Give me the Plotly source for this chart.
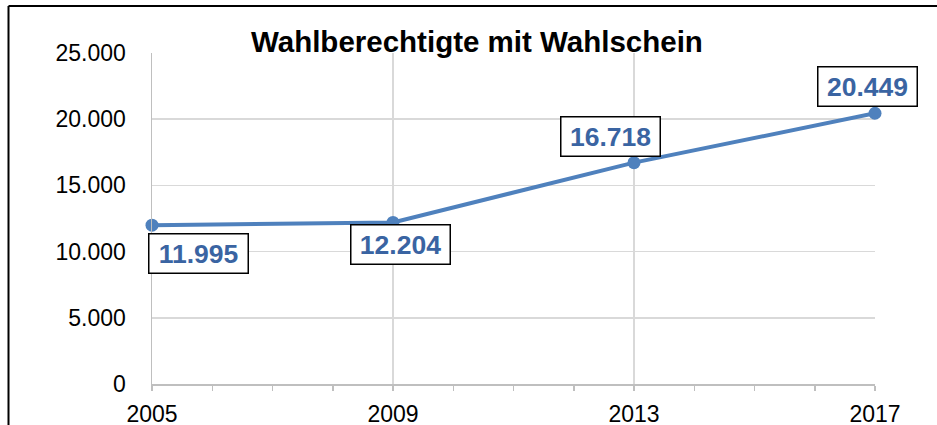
import plotly.graph_objects as go

years = [2005, 2009, 2013, 2017]
voters = [11995, 12204, 16718, 20449]
label_shift_x = [46, 7, -24, -8]
label_shift_y = [-28, -22, 26, 27]

title_text = "Wahlberechtigte mit Wahlschein"
y_ticks = [0, 5000, 10000, 15000, 20000, 25000]

def de(v):
    return f"{v:,}".replace(",", ".")

FONT = "Liberation Sans, Arial, sans-serif"
LINE = "#4F81BD"
LBL = "#3A64A2"

fig = go.Figure()
fig.add_trace(go.Scatter(
    x=years, y=voters, mode="lines+markers",
    line=dict(color=LINE, width=4),
    marker=dict(color=LINE, size=13),
    cliponaxis=False, showlegend=False, hoverinfo="skip",
))

for x, v, sx, sy in zip(years, voters, label_shift_x, label_shift_y):
    fig.add_annotation(
        x=x, y=v, xref="x", yref="y", text=de(v), showarrow=False,
        xshift=sx, yshift=sy, xanchor="center", yanchor="middle",
        font=dict(family=FONT, size=26.5, color=LBL, weight="bold"),
        bgcolor="white", bordercolor="black", borderwidth=1.5,
        borderpad=3, width=92, height=32,
    )

L, R, T, B = 152, 62, 53, 41
W, H = 937, 425
pw, ph = W - L - R, H - T - B

def px(xp):
    return (xp - L) / pw

def py(yp):
    return (H - B - yp) / ph

# outer frame (top and left edges visible)
fig.add_shape(type="line", xref="paper", yref="paper",
              x0=px(8.5), x1=px(W + 5), y0=py(6), y1=py(6),
              line=dict(color="black", width=2))
fig.add_shape(type="line", xref="paper", yref="paper",
              x0=px(8.5), x1=px(8.5), y0=py(6), y1=py(H + 5),
              line=dict(color="black", width=2))

fig.add_annotation(
    text=title_text, xref="paper", yref="paper",
    x=px(476.5), y=py(42), xanchor="center", yanchor="middle",
    showarrow=False,
    font=dict(family=FONT, size=29.5, color="black", weight="bold"),
)

fig.update_layout(
    width=W, height=H, margin=dict(l=L, r=R, t=T, b=B, autoexpand=False),
    paper_bgcolor="white", plot_bgcolor="white",
    separators=",.",
    font=dict(family=FONT, size=23, color="black"),
)
fig.update_xaxes(
    range=[2005, 2017], tickvals=years, ticktext=[str(y) for y in years],
    showgrid=True, gridcolor="#D9D9D9", gridwidth=1.5,
    showline=True, linecolor="#BFBFBF", linewidth=1.5,
    ticks="outside", ticklen=5, tickcolor="#BFBFBF", tickwidth=1.5,
    minor=dict(dtick=1, tick0=2005, ticks="outside", ticklen=5,
               tickcolor="#BFBFBF", tickwidth=1.5, showgrid=False),
    ticklabelstandoff=4, zeroline=False,
    tickfont=dict(family=FONT, size=23, color="black"),
)
fig.update_yaxes(
    range=[0, 25000], tickvals=y_ticks, ticktext=[de(v) for v in y_ticks],
    showgrid=True, gridcolor="#D9D9D9", gridwidth=1.5,
    showline=True, linecolor="#BFBFBF", linewidth=1.5,
    ticks="", ticklabelstandoff=20, zeroline=False,
    tickfont=dict(family=FONT, size=23, color="black"),
)

fig.write_html(
    "out.html",
    config={"displayModeBar": False, "staticPlot": True},
    post_script="document.body.style.margin='0';document.body.style.overflow='hidden';",
)
